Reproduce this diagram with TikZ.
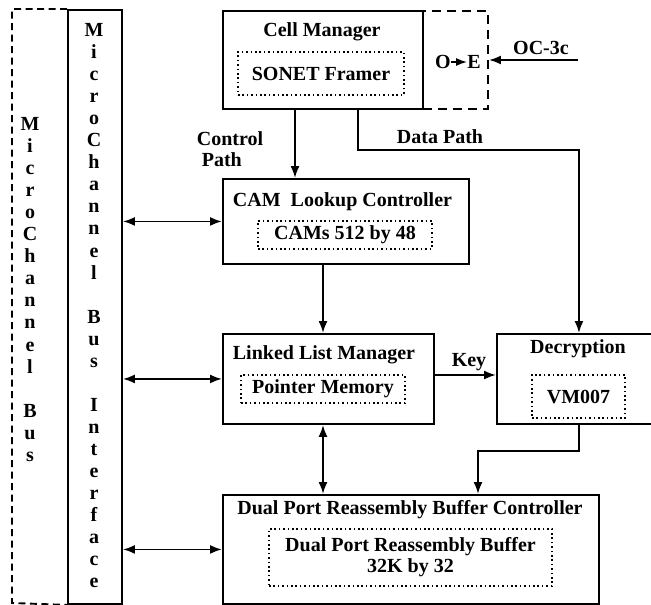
\documentclass[tikz,border=0pt]{standalone}
\usepackage{fontspec}
\setmainfont{Liberation Serif}
\usetikzlibrary{arrows.meta}
\begin{document}
\begin{tikzpicture}[x=1pt,y=-1pt,
  every node/.style={font=\bfseries\fontsize{20}{21}\selectfont, inner sep=0pt},
  blk/.style={draw, line width=1.9pt, anchor=north west},
  dotbox/.style={draw, line width=1.6pt, dash pattern=on 1.6pt off 2.8pt},
  oedash/.style={draw, line width=1.9pt, dash pattern=on 9pt off 6pt, anchor=north west},
  busdash/.style={line width=1.9pt, dash pattern=on 7pt off 4.5pt},
  arr/.style={line width=1.9pt, -{Latex[length=12pt,width=9pt]}},
  darr/.style={line width=1.9pt, {Latex[length=12pt,width=9pt]}-{Latex[length=12pt,width=9pt]}},
  small/.style={line width=1.7pt, -{Latex[length=11pt,width=8pt]}}]
\useasboundingbox (0,0) rectangle (651,605);

% MicroChannel bus (dashed) and bus interface column
\node[blk, minimum width=54, minimum height=594] (iface) at (67,9) {};
\draw[busdash] (iface.north west) -- (12,9) -- (12,603) -- (iface.south west);

\foreach [count=\i from 0] \ch in {M,i,c,r,o,C,h,a,n,n,e,l,{},B,u,s,{},I,n,t,e,r,f,a,c,e}
  \node[anchor=base] (bi\i) at (94,36.6+22.04*\i) {\ch};
\foreach [count=\i from 0] \ch in {M,i,c,r,o,C,h,a,n,n,e,l,{},B,u,s}
  \node[anchor=base] (bb\i) at (30,130.6+22.04*\i) {\ch};

% optical/electrical converter
\node[oedash, minimum width=65, minimum height=98] (oebox) at (422,10) {};
% cell manager
\node[blk, fill=white, minimum width=200, minimum height=98] (cell) at (222,10) {};
\node (cellt) at (322,32) {Cell Manager};
\node[dotbox, minimum width=166, minimum height=43] (sonet) at (321,73.5) {SONET Framer};

\node (o) at (443,62) {O};
\node (e) at (474,62) {E};
\draw[small] (o.east) -- (e.west);
\coordinate (ocin) at (578,60);
\draw[arr] (ocin) -- (oebox.east |- ocin);
\node (oc) at (541,48) {OC-3c};

% CAM lookup controller
\node[blk, minimum width=246, minimum height=85] (cam) at (222,178) {};
\node (camt) at (342.5,202) {CAM\ \ Lookup Controller};
\node[dotbox, minimum width=174, minimum height=28] (cams) at (345,235) {CAMs 512 by 48};

% linked list manager
\node[blk, minimum width=211, minimum height=90] (llm) at (222,333) {};
\node (llmt) at (324,355) {Linked List Manager};
\node[dotbox, minimum width=164, minimum height=28] (ptr) at (323,389) {Pointer Memory};

% decryption
\node[blk, minimum width=164, minimum height=90] (dec) at (496,333) {};
\node (dect) at (578,349) {Decryption};
\node[dotbox, minimum width=93, minimum height=43] (vm) at (578.5,396.5) {VM007};

% dual port reassembly buffer controller
\node[blk, minimum width=376, minimum height=109] (dprb) at (222,494) {};
\node (dprbt) at (410,510) {Dual Port Reassembly Buffer Controller};
\node[dotbox, minimum width=283, minimum height=57, align=center] (buf) at (410.5,557.5)
  {Dual Port Reassembly Buffer\\32K by 32};

% control and data paths
\coordinate (cpx) at (295,0);
\draw[arr] (cell.south -| cpx) -- (cam.north -| cpx);
\node[align=left] (cpl) at (230,149) {Control\\\hspace*{5pt}Path};
\coordinate (dpx) at (358,150);
\draw[arr] (cell.south -| dpx) -- (dpx) -| (dec.north);
\node (dpl) at (440,137) {Data Path};

\coordinate (lx) at (323,0);
\draw[arr] (cam.south -| lx) -- (llm.north -| lx);
\draw[arr] (llm.east |- 0,375) -- (dec.west |- 0,375);
\node (key) at (469,362) {Key};
\draw[darr] (llm.south -| lx) -- (dprb.north -| lx);
\coordinate (dturn) at (478,451);
\draw[arr] (dec.south) |- (dturn) -- (dprb.north -| dturn);

% bus interface connections
\draw[darr] (iface.east |- cam.west) -- (cam.west);
\draw[darr] (iface.east |- llm.west) -- (llm.west);
\draw[darr] (iface.east |- dprb.west) -- (dprb.west);
\end{tikzpicture}
\end{document}
